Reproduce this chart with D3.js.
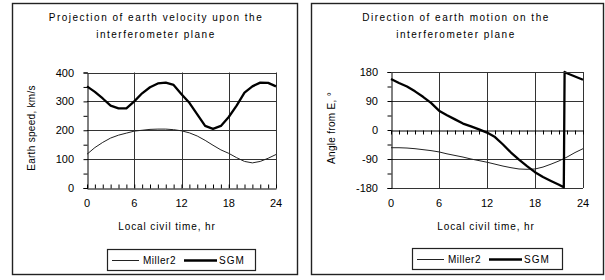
<!DOCTYPE html>
<html>
<head>
<meta charset="utf-8">
<script src="https://cdn.jsdelivr.net/npm/d3@7"></script>
<style>
  body { margin: 0; background: #fff; }
  svg { display: block; font-family: "Liberation Sans", Arial, sans-serif; }
</style>
</head>
<body>
<svg id="chart" width="605" height="280"></svg>
<script>
// data
var hours = [0, 1, 2, 3, 4, 5, 6, 7, 8, 9, 10, 11, 12, 13, 14, 15, 16, 17, 18, 19, 20, 21, 22, 23, 24];
var speedMiller2 = [117, 140, 158, 173, 183, 190, 197, 200, 203, 204, 204, 202, 198, 191, 180, 165, 148, 132, 120, 105, 92, 87, 92, 103, 116];
var speedSGM = [352, 333, 310, 285, 276, 276, 300, 328, 349, 362, 365, 357, 325, 295, 255, 215, 205, 215, 246, 285, 330, 352, 365, 364, 352];
var angleMiller2 = [-55, -55, -56, -58, -61, -64, -68, -74, -79, -84, -90, -95, -100, -106, -112, -117, -121, -122, -121, -115, -106, -96, -84, -70, -58];
var angleSGMHours = [0, 1, 2, 3, 4, 5, 6, 7, 8, 9, 10, 11, 12, 13, 14, 15, 16, 17, 18, 19, 20, 21, 21.6, 21.7, 22, 23, 24];
var angleSGM = [158, 146, 135, 120, 103, 84, 60, 46, 33, 20, 11, 2, -8, -22, -45, -70, -92, -112, -131, -146, -158, -170, -178, 180, 176, 166, 156];
var hourTicks = [0, 6, 12, 18, 24];
var speedTicks = [0, 100, 200, 300, 400];
var angleTicks = [-180, -90, 0, 90, 180];
var seriesNames = ["Miller2", "SGM"];

var svg = d3.select("#chart");

function drawPanel(p) {
  var g = svg.append("g");

  // frame
  g.append("rect")
    .attr("x", p.frame[0] + 0.5).attr("y", p.frame[1] + 0.5)
    .attr("width", p.frame[2] - p.frame[0]).attr("height", p.frame[3] - p.frame[1])
    .attr("fill", "#fff").attr("stroke", "#222").attr("stroke-width", 1.4);

  var x = d3.scaleLinear().domain([0, 24]).range([p.plot[0], p.plot[2]]);
  var y = d3.scaleLinear().domain(p.yDomain).range([p.plot[3], p.plot[1]]);

  // title
  p.title.forEach(function(t, i) {
    g.append("text")
      .attr("x", p.titleX).attr("y", 21 + i * 17)
      .attr("text-anchor", "middle")
      .style("font-size", "10px").style("letter-spacing", "1.5px")
      .text(t);
  });

  // gridlines
  g.selectAll(".vgrid").data(hourTicks.slice(1)).enter().append("line")
    .attr("x1", d => Math.round(x(d)) + 0.5).attr("x2", d => Math.round(x(d)) + 0.5)
    .attr("y1", p.plot[1]).attr("y2", p.plot[3])
    .attr("stroke", "#333").attr("stroke-width", 1);
  g.selectAll(".hgrid").data(p.yTicks.filter(d => d !== p.yDomain[0] && d !== p.axisAt)).enter().append("line")
    .attr("x1", p.plot[0]).attr("x2", p.plot[2])
    .attr("y1", d => Math.round(y(d)) + 0.5).attr("y2", d => Math.round(y(d)) + 0.5)
    .attr("stroke", "#333").attr("stroke-width", 1);
  // bottom border of plot when axis sits elsewhere
  if (p.axisAt !== p.yDomain[0]) {
    g.append("line")
      .attr("x1", p.plot[0]).attr("x2", p.plot[2])
      .attr("y1", Math.round(y(p.yDomain[0])) + 0.5).attr("y2", Math.round(y(p.yDomain[0])) + 0.5)
      .attr("stroke", "#333");
  }

  // y axis with minor ticks
  var yAxis = g.append("g")
    .attr("transform", "translate(" + (Math.round(x(0)) + 0.5) + ",0)")
    .call(d3.axisLeft(y).tickValues(p.yMinor).tickSize(4).tickFormat(""));
  yAxis.select(".domain").attr("stroke", "#000");
  yAxis.selectAll("line").attr("stroke", "#000");

  g.selectAll(".ylab").data(p.yTicks).enter().append("text")
    .attr("x", x(0) - 13).attr("y", d => y(d) + 4)
    .attr("text-anchor", "end")
    .style("font-size", "11px")
    .text(d => d);

  // x axis with hourly minor ticks
  var xAxis = g.append("g")
    .attr("transform", "translate(0," + (Math.round(y(p.axisAt)) + 0.5) + ")")
    .call((p.ticksUp ? d3.axisTop(x) : d3.axisBottom(x)).tickValues(hours).tickSize(4).tickSizeOuter(0).tickFormat(""));
  xAxis.select(".domain").attr("stroke", "#000");
  xAxis.selectAll("line").attr("stroke", "#000");

  g.selectAll(".xlab").data(hourTicks).enter().append("text")
    .attr("x", d => x(d)).attr("y", 207)
    .attr("text-anchor", "middle")
    .style("font-size", "11px")
    .text(d => d);

  g.append("text")
    .attr("x", p.xLabelX).attr("y", 230)
    .attr("text-anchor", "middle")
    .style("font-size", "10px").style("letter-spacing", "0.9px")
    .text("Local civil time, hr");

  g.append("text")
    .attr("transform", "translate(" + p.yLabelX + ",128) rotate(-90)")
    .attr("text-anchor", "middle")
    .style("font-size", "10px").style("letter-spacing", "0.3px")
    .text(p.yLabel);

  // series
  var line = d3.line().x(d => x(d[0])).y(d => y(d[1]));
  g.append("path")
    .datum(d3.zip(p.s1x, p.s1))
    .attr("fill", "none").attr("stroke", "#222").attr("stroke-width", 1)
    .attr("d", line);
  g.append("path")
    .datum(d3.zip(p.s2x, p.s2))
    .attr("fill", "none").attr("stroke", "#000").attr("stroke-width", 2.3)
    .attr("stroke-linejoin", "round")
    .attr("d", line);

  // plot border top
  g.append("line")
    .attr("x1", p.plot[0]).attr("x2", p.plot[2])
    .attr("y1", Math.round(p.plot[1]) + 0.5).attr("y2", Math.round(p.plot[1]) + 0.5)
    .attr("stroke", "#333");

  // legend
  var L = p.legend;
  var lg = g.append("g").attr("transform", "translate(" + L[0] + "," + L[1] + ")");
  lg.append("rect")
    .attr("x", 0.5).attr("y", 0.5).attr("width", L[2]).attr("height", 21)
    .attr("fill", "#fff").attr("stroke", "#222").attr("stroke-width", 1.2);
  lg.append("line").attr("x1", 5).attr("x2", 32).attr("y1", 11.5).attr("y2", 11.5)
    .attr("stroke", "#222").attr("stroke-width", 1);
  lg.append("text").attr("x", 36).attr("y", 15).style("font-size", "10px").style("letter-spacing", "0.5px").text(seriesNames[0]);
  lg.append("line").attr("x1", 77).attr("x2", 110).attr("y1", 11.5).attr("y2", 11.5)
    .attr("stroke", "#000").attr("stroke-width", 2.3);
  lg.append("text").attr("x", 112).attr("y", 15).style("font-size", "10px").style("letter-spacing", "1px").text(seriesNames[1]);
}

drawPanel({
  frame: [12, 3, 297, 274],
  plot: [87, 72.5, 276, 188],
  yDomain: [0, 400],
  yTicks: speedTicks,
  yMinor: [0, 50, 100, 150, 200, 250, 300, 350, 400],
  axisAt: 0,
  ticksUp: true,
  title: ["Projection of earth velocity upon the", "interferometer plane"],
  titleX: 156,
  xLabelX: 167,
  yLabel: "Earth speed, km/s",
  yLabelX: 35,
  s1x: hours, s1: speedMiller2,
  s2x: hours, s2: speedSGM,
  legend: [107, 249, 148]
});

drawPanel({
  frame: [311, 3, 603, 274],
  plot: [391, 72, 583, 188],
  yDomain: [-180, 180],
  yTicks: angleTicks,
  yMinor: [-180, -135, -90, -45, 0, 45, 90, 135, 180],
  axisAt: 0,
  ticksUp: false,
  title: ["Direction of earth motion on the", "interferometer plane"],
  titleX: 456,
  xLabelX: 486,
  yLabel: "Angle from E, °",
  yLabelX: 335,
  s1x: hours, s1: angleMiller2,
  s2x: angleSGMHours, s2: angleSGM,
  legend: [412, 248, 150]
});
</script>
</body>
</html>
